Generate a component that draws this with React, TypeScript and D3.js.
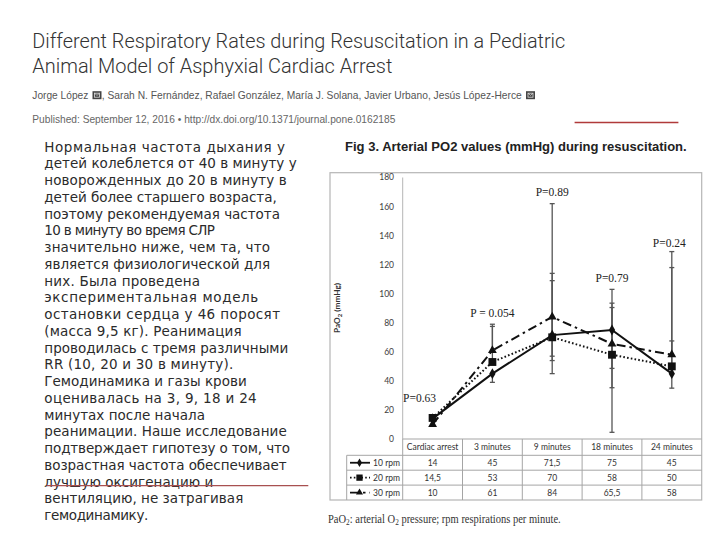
import React from "react";
import * as d3 from "d3";

// ---------- data ----------
const categories = ["Cardiac arrest", "3 minutes", "9 minutes", "18 minutes", "24 minutes"];
const seriesNames = ["10 rpm", "20 rpm", "30 rpm"];
const rpm10 = [14, 45, 71.5, 75, 45];
const rpm20 = [14.5, 53, 70, 58, 50];
const rpm30 = [10, 61, 84, 65.5, 58];
// error bar ends, null = none
const errHigh10 = [null, null, 109, 90.5, 67.5];
const errLow10 = [null, 39, 54, 35.3, 35];
const errHigh20 = [null, 77.5, 114, 93.5, 118];
const errLow20 = [null, null, 45, 4.6, null];
const errHigh30 = [null, 79, 162, 103, 129];
const errLow30 = [null, null, 57, 48.6, null];
const pLabels = ["P=0.63", "P = 0.054", "P=0.89", "P=0.79", "P=0.24"];
const pLabelY = [28.4, 87, 170.2, 110.6, 134.7];
const yTicks = [0, 20, 40, 60, 80, 100, 120, 140, 160, 180];

const titleLines = [
  "Different Respiratory Rates during Resuscitation in a Pediatric",
  "Animal Model of Asphyxial Cardiac Arrest",
];
const authorsA = "Jorge López";
const authorsB = ", Sarah N. Fernández, Rafael González, María J. Solana, Javier Urbano, Jesús López-Herce";
const published = "Published: September 12, 2016 •  http://dx.doi.org/10.1371/journal.pone.0162185";
const figTitle = "Fig 3. Arterial PO2 values (mmHg) during resuscitation.";

const paragraph = [
  "Нормальная частота дыхания у",
  "детей колеблется от 40 в минуту у",
  "новорожденных до 20 в минуту в",
  "детей более старшего возраста,",
  "поэтому рекомендуемая частота",
  "10 в минуту во время СЛР",
  "значительно ниже, чем та, что",
  "является физиологической для",
  "них. Была проведена",
  "экспериментальная модель",
  "остановки сердца у 46 поросят",
  "(масса 9,5 кг). Реанимация",
  "проводилась с тремя различными",
  "RR (10, 20 и 30 в минуту).",
  "Гемодинамика и газы крови",
  "оценивалась на 3, 9, 18 и 24",
  "минутах после начала",
  "реанимации. Наше исследование",
  "подтверждает гипотезу о том, что",
  "возрастная частота обеспечивает",
  "лучшую оксигенацию и",
  "вентиляцию, не затрагивая",
  "гемодинамику.",
];
// right edge of each paragraph line (layout)
const paraEnds = [285, 296.7, 286.7, 276.7, 280, 215, 270, 270, 200, 258.3, 280,
  241.7, 288.3, 233.3, 246.7, 256.7, 205, 286.7, 290, 286.7, 213.3, 243.3, 148.3];

const series = [
  { name: seriesNames[0], values: rpm10, hi: errHigh10, lo: errLow10, dash: "none", marker: "diamond" },
  { name: seriesNames[1], values: rpm20, hi: errHigh20, lo: errLow20, dash: "1.6,2.2", marker: "square" },
  { name: seriesNames[2], values: rpm30, hi: errHigh30, lo: errLow30, dash: "9,4,2.5,4", marker: "triangle" },
];

const symbolFor = (m: string) =>
  m === "diamond"
    ? d3.symbol(d3.symbolDiamond, 34)()
    : m === "square"
    ? d3.symbol(d3.symbolSquare, 62)()
    : d3.symbol(d3.symbolTriangle, 34)();

function EnvelopeIcon({ x, y }: { x: number; y: number }) {
  return (
    <g transform={`translate(${x},${y})`}>
      <rect width={9} height={8} fill="#444" />
      <rect x={2} y={2} width={5} height={4} fill="none" stroke="#ddd" strokeWidth={0.8} />
      <path d="M2,2 L4.5,4.2 L7,2" fill="none" stroke="#ddd" strokeWidth={0.7} />
    </g>
  );
}

export default function App() {
  const left = 402.7, right = 701.7, top = 177.5, bottom = 439;
  const x = d3.scaleBand<string>().domain(categories).range([left, right]).padding(0);
  const y = d3.scaleLinear().domain([0, 180]).range([bottom, top]);
  const cx = (i: number) => (x(categories[i]) as number) + x.bandwidth() / 2;
  const lineGen = d3.line<number>().x((_, i) => cx(i)).y((d) => y(d));

  const headerBottom = 455.3;
  const rowH = 14.9;
  const rowsY = series.map((_, i) => headerBottom + rowH * i);
  const tableBottom = headerBottom + rowH * 3;
  const legendLeft = 346.7;
  const boxLeft = 330, boxTop = 172.7;
  const fmt = (v: number) => String(v).replace(".", ",");
  const sans = "Lato, 'Open Sans', sans-serif";

  return (
    <svg width={720} height={540} style={{ position: "absolute", left: 0, top: 0, background: "#fff" }}>
      <rect width={720} height={540} fill="#fff" />
      {/* header */}
      {titleLines.map((t, i) => (
        <text key={i} x={32.3} y={48 + i * 25} fontFamily="Roboto, sans-serif" fontWeight={300} fontSize={20}
          fill="#333" textLength={i === 0 ? 533 : 360} lengthAdjust="spacingAndGlyphs">{t}</text>
      ))}
      <text x={32.3} y={99} fontFamily="'Liberation Sans', Arial, sans-serif" fontSize={11} fill="#555"
        textLength={56} lengthAdjust="spacingAndGlyphs">{authorsA}</text>
      <EnvelopeIcon x={92.5} y={91.2} />
      <text x={101.8} y={99} fontFamily="'Liberation Sans', Arial, sans-serif" fontSize={11} fill="#555"
        textLength={420} lengthAdjust="spacingAndGlyphs">{authorsB}</text>
      <EnvelopeIcon x={526} y={91.2} />
      <text x={32.3} y={122.5} fontFamily="'Liberation Sans', Arial, sans-serif" fontSize={11} fill="#666"
        textLength={363} lengthAdjust="spacingAndGlyphs">{published}</text>
      <line x1={574.6} x2={678.4} y1={122.5} y2={122.5} stroke="#b03a3a" strokeWidth={1.4} />

      {/* paragraph */}
      {paragraph.map((t, i) => (
        <text key={i} x={44.3} y={146.7 + i * 16.75 + 5} fontFamily="'DejaVu Sans', Verdana, sans-serif"
          fontSize={13.5} fill="#2b2b2b" textLength={paraEnds[i] - 44.3} lengthAdjust="spacing">{t}</text>
      ))}
      <line x1={46.7} x2={308.3} y1={485.7} y2={485.7} stroke="#a85050" strokeWidth={1.3} />

      {/* figure title */}
      <text x={345} y={150.5} fontFamily="'Liberation Sans', Arial, sans-serif" fontWeight="bold" fontSize={12.5}
        fill="#222" textLength={341.7} lengthAdjust="spacingAndGlyphs">{figTitle}</text>

      {/* chart frame */}
      <rect x={boxLeft} y={boxTop} width={right - boxLeft} height={tableBottom - boxTop} fill="none" stroke="#b5b5b5" strokeWidth={1.2} />
      <line x1={left} x2={left} y1={top} y2={bottom} stroke="#b5b5b5" strokeWidth={1} />
      {yTicks.map((t) => (
        <text key={t} x={394} y={y(t)} dy="0.35em" textAnchor="end" fontFamily={sans} fontSize={8.5} fill="#404040">{t}</text>
      ))}
      <text transform={`translate(337,308) rotate(-90)`} textAnchor="middle" dy="0.35em" fontFamily={sans}
        fontWeight="bold" fontSize={8} fill="#333" textLength={50} lengthAdjust="spacingAndGlyphs">
        PaO<tspan fontSize={6} dy={2}>2</tspan><tspan dy={-2}> (mmHg)</tspan>
      </text>

      {/* error bars */}
      {series.map((s) =>
        s.values.map((v, i) => {
          const hi = s.hi[i], lo = s.lo[i];
          const xx = cx(i);
          return (
            <g key={s.name + i} stroke="#555" strokeWidth={1.3}>
              {hi != null && (<>
                <line x1={xx} x2={xx} y1={y(v)} y2={y(hi)} />
                <line x1={xx - 2.5} x2={xx + 2.5} y1={y(hi)} y2={y(hi)} />
              </>)}
              {lo != null && (<>
                <line x1={xx} x2={xx} y1={y(v)} y2={y(lo)} />
                <line x1={xx - 2.5} x2={xx + 2.5} y1={y(lo)} y2={y(lo)} />
              </>)}
            </g>
          );
        })
      )}

      {/* lines */}
      {series.map((s) => (
        <path key={s.name} d={lineGen(s.values) || ""} fill="none" stroke="#111" strokeWidth={2}
          strokeDasharray={s.dash} />
      ))}
      {series.map((s) =>
        s.values.map((v, i) => (
          <path key={s.name + "m" + i} d={symbolFor(s.marker) || ""}
            transform={`translate(${cx(i)},${y(v)})`} fill="#111" />
        ))
      )}

      {/* p-values */}
      {pLabels.map((p, i) => (
        <text key={p} x={cx(i) + (i === 0 ? -13 : i === 4 ? -2.5 : 0)} y={y(pLabelY[i])} dy="0.35em" textAnchor="middle"
          fontFamily="'Liberation Serif', 'Times New Roman', serif" fontSize={11.5} fill="#222">{p}</text>
      ))}

      {/* data table */}
      <g stroke="#a5a5a5" strokeWidth={1}>
        <line x1={left} x2={right} y1={bottom} y2={bottom} />
        {rowsY.map((ry, i) => (
          <line key={i} x1={legendLeft} x2={right} y1={ry} y2={ry} />
        ))}
        <line x1={legendLeft} x2={legendLeft} y1={headerBottom} y2={tableBottom} />
        {categories.map((c) => (
          <line key={c} x1={x(c) as number} x2={x(c) as number} y1={bottom} y2={tableBottom} />
        ))}
      </g>
      {categories.map((c, i) => (
        <text key={c} x={cx(i)} y={(bottom + headerBottom) / 2} dy="0.35em" textAnchor="middle"
          fontFamily={sans} fontSize={8.5} fill="#333">{c}</text>
      ))}
      {series.map((s, si) => {
        const ry = rowsY[si] + rowH / 2;
        return (
          <g key={s.name}>
            <line x1={350} x2={370} y1={ry} y2={ry} stroke="#111" strokeWidth={1.8} strokeDasharray={s.dash} />
            <path d={symbolFor(s.marker) || ""} transform={`translate(359.5,${ry}) scale(0.8)`} fill="#111" />
            <text x={400} y={ry} dy="0.35em" textAnchor="end" fontFamily={sans} fontSize={8.5} fill="#333">{s.name}</text>
            {s.values.map((v, i) => (
              <text key={i} x={cx(i)} y={ry} dy="0.35em" textAnchor="middle" fontFamily={sans} fontSize={8.5} fill="#333">{fmt(v)}</text>
            ))}
          </g>
        );
      })}

      {/* caption */}
      <text x={328} y={523} fontFamily="'Liberation Serif', 'Times New Roman', serif" fontSize={11.5} fill="#333"
        textLength={232.7} lengthAdjust="spacingAndGlyphs">
        PaO<tspan fontSize={8} dy={2}>2</tspan><tspan dy={-2}>: arterial O</tspan><tspan fontSize={8} dy={2}>2</tspan><tspan dy={-2}> pressure; rpm respirations per minute.</tspan>
      </text>
    </svg>
  );
}
